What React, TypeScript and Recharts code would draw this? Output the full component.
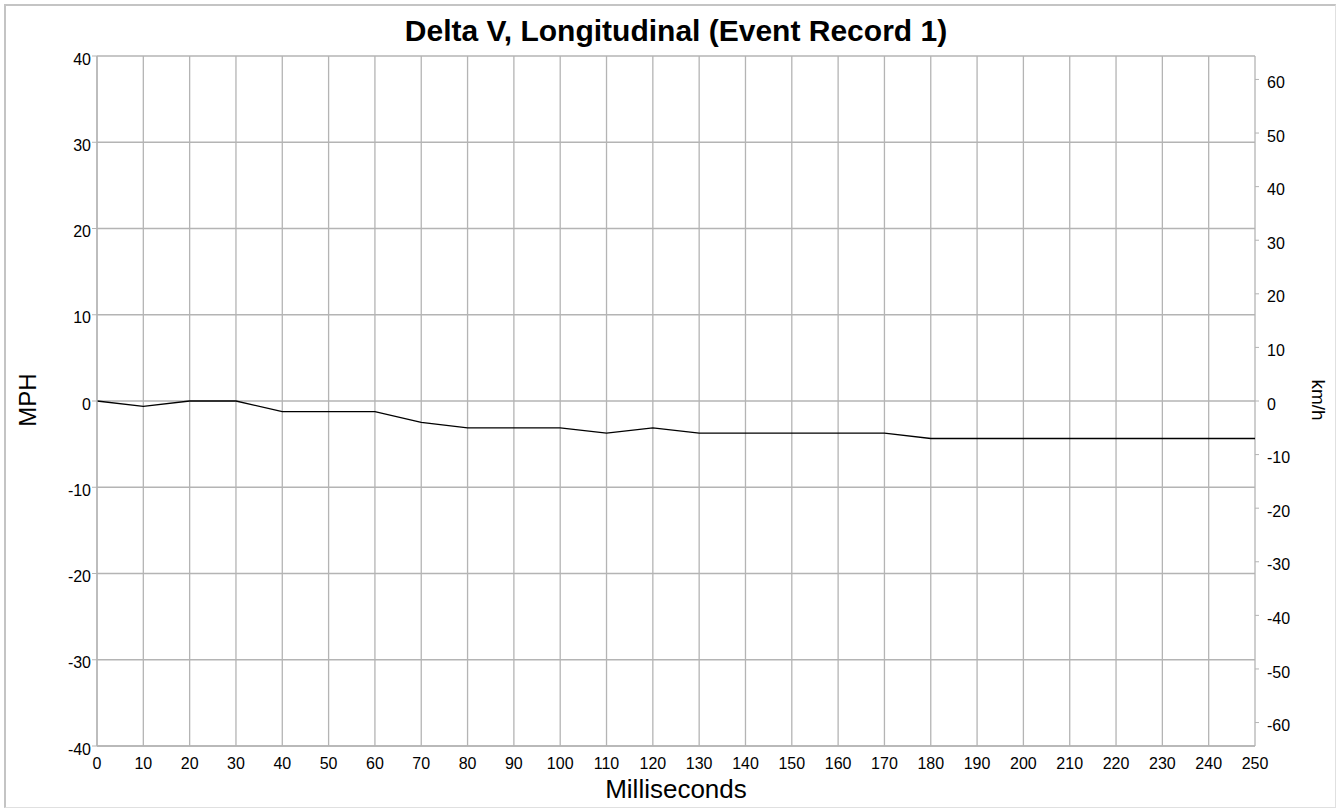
import React from 'react';
import { LineChart, Line, XAxis, YAxis, CartesianGrid } from 'recharts';

const timesMs = [0, 10, 20, 30, 40, 50, 60, 70, 80, 90, 100, 110, 120, 130, 140, 150, 160, 170, 180, 190, 200, 210, 220, 230, 240, 250];
const deltaVMph = [0, -0.62, 0, 0, -1.24, -1.24, -1.24, -2.49, -3.11, -3.11, -3.11, -3.73, -3.11, -3.73, -3.73, -3.73, -3.73, -3.73, -4.35, -4.35, -4.35, -4.35, -4.35, -4.35, -4.35, -4.35];
const xTicks = [0, 10, 20, 30, 40, 50, 60, 70, 80, 90, 100, 110, 120, 130, 140, 150, 160, 170, 180, 190, 200, 210, 220, 230, 240, 250];
const mphTicks = [-40, -30, -20, -10, 0, 10, 20, 30, 40];
const kmhTicks = [-60, -50, -40, -30, -20, -10, 0, 10, 20, 30, 40, 50, 60];
const MPH_TO_KMH = 1.609344;

const data = timesMs.map((t, i) => ({ t, mph: deltaVMph[i] }));

const FONT = '"Liberation Sans", Arial, sans-serif';
const GRID = '#b4b4b4';

export default function App() {
  return (
    <div style={{ position: 'absolute', left: 0, top: 0, width: 1338, height: 809, background: '#fff', fontFamily: FONT }}>
      <div style={{ position: 'absolute', left: 4, top: 4, width: 1332, height: 804, boxSizing: 'border-box', border: '2px solid #c4c4c4', borderRight: '1px solid #e0e0e0', borderBottom: '1px solid #e0e0e0' }} />
      <LineChart width={1338} height={809} data={data} margin={{ top: 56, right: 0, bottom: 0, left: 0 }}>
        <CartesianGrid stroke={GRID} strokeWidth={1.3} verticalValues={xTicks} horizontalValues={mphTicks} />
        <XAxis
          dataKey="t"
          type="number"
          domain={[0, 250]}
          ticks={xTicks}
          interval={0}
          height={63}
          tickLine={false}
          tickSize={0}
          tickMargin={12}
          axisLine={{ stroke: GRID, strokeWidth: 1.3 }}
          tick={{ fill: '#000', fontSize: 16, fontFamily: FONT }}
        />
        <YAxis
          type="number"
          domain={[-40, 40]}
          ticks={mphTicks}
          interval={0}
          width={97}
          tickSize={5}
          tickMargin={1}
          tickLine={{ stroke: GRID }}
          axisLine={{ stroke: GRID, strokeWidth: 1.3 }}
          tick={{ fill: '#000', fontSize: 16, fontFamily: FONT, dy: 3 }}
        />
        <YAxis
          yAxisId="kmh"
          orientation="right"
          type="number"
          domain={[-40 * MPH_TO_KMH, 40 * MPH_TO_KMH]}
          allowDataOverflow
          ticks={kmhTicks}
          interval={0}
          width={83}
          tickSize={4}
          tickMargin={8}
          tickLine={{ stroke: GRID }}
          axisLine={false}
          tick={{ fill: '#000', fontSize: 16, fontFamily: FONT, dy: 3 }}
        />
        <Line type="linear" dataKey="mph" stroke="#000" strokeWidth={1.3} dot={false} isAnimationActive={false} />
      </LineChart>
      <div style={{ position: 'absolute', left: 0, width: 1352, top: 14, textAlign: 'center', fontSize: 30, fontWeight: 'bold', color: '#000', whiteSpace: 'nowrap' }}>
        Delta V, Longitudinal (Event Record 1)
      </div>
      <div style={{ position: 'absolute', left: 0, width: 1352, top: 774, textAlign: 'center', fontSize: 26, color: '#000', whiteSpace: 'nowrap' }}>
        Milliseconds
      </div>
      <div style={{ position: 'absolute', left: 28, top: 400, transform: 'translate(-50%, -50%) rotate(-90deg)', fontSize: 24, color: '#000', whiteSpace: 'nowrap' }}>
        MPH
      </div>
      <div style={{ position: 'absolute', left: 1318, top: 400, transform: 'translate(-50%, -50%) rotate(90deg)', fontSize: 19, color: '#000', whiteSpace: 'nowrap' }}>
        km/h
      </div>
    </div>
  );
}
